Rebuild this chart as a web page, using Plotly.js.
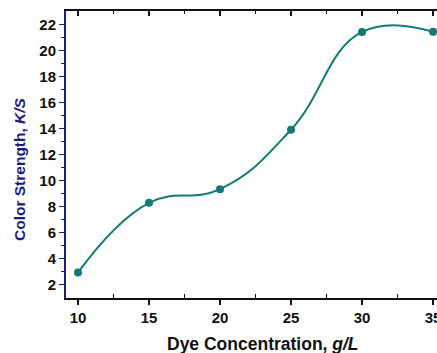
<!DOCTYPE html>
<html>
<head>
<meta charset="utf-8">
<script src="https://cdn.plot.ly/plotly-3.0.1.min.js"></script>
<style>html,body{margin:0;padding:0;background:#fff;}#chart{width:437px;height:353px;}</style>
</head>
<body>
<div id="chart"></div>
<script>
const dyeConcentration = [10, 15, 20, 25, 30, 35];
const colorStrength = [2.92, 8.28, 9.33, 13.9, 21.41, 21.42];
const xTickValues = [10, 15, 20, 25, 30, 35];
const yTickValues = [2, 4, 6, 8, 10, 12, 14, 16, 18, 20, 22];
const xTitle = 'Dye Concentration, <i>g/L</i>';
const yTitle = 'Color Strength, <i>K/S</i>';

const navy = '#1c1c7c';
const teal = '#127a78';
const fontFam = 'Arial, "Liberation Sans", sans-serif';

const traces = [{
  x: dyeConcentration,
  y: colorStrength,
  type: 'scatter',
  mode: 'lines+markers',
  line: {color: teal, width: 2, shape: 'spline', smoothing: 1.25},
  marker: {color: teal, size: 8},
  showlegend: false,
  hoverinfo: 'none'
}, {
  x: dyeConcentration,
  y: colorStrength,
  xaxis: 'x2',
  type: 'scatter',
  mode: 'none',
  showlegend: false,
  hoverinfo: 'none'
}];

const xr = [9.155, 35.28];
const H = 287; // plot height px
const W = 371; // plot width px
const layout = {
  width: 437, height: 353,
  margin: {l: 66, r: 0, t: 11, b: 55},
  paper_bgcolor: '#fff', plot_bgcolor: '#fff',
  font: {family: fontFam, weight: 'bold', color: '#111', size: 14},
  xaxis: {
    range: xr, tickvals: xTickValues, ticktext: xTickValues.map(String),
    ticklabeloverflow: 'allow',
    showgrid: false, zeroline: false,
    showline: true, linecolor: '#111', linewidth: 2,
    ticks: 'outside', ticklen: 5, tickwidth: 1.5, tickcolor: '#111',
    minor: {tickvals: [12.5, 17.5, 22.5, 27.5, 32.5], ticks: 'inside', ticklen: 4, tickcolor: '#111', tickwidth: 1.2, showgrid: false},
    tickfont: {family: fontFam, size: 15, weight: 'bold', color: '#111'}
  },
  xaxis2: {
    range: xr, overlaying: 'x', side: 'top', anchor: 'y',
    tickvals: xTickValues, showticklabels: false,
    showgrid: false, zeroline: false,
    showline: true, linecolor: '#111', linewidth: 2,
    ticks: 'inside', ticklen: 5, tickwidth: 1.5, tickcolor: '#111',
    minor: {tickvals: [12.5, 17.5, 22.5, 27.5, 32.5], ticks: 'inside', ticklen: 3, tickcolor: '#111', tickwidth: 1.2, showgrid: false}
  },
  yaxis: {
    range: [0.97, 23.02], tickvals: yTickValues, ticktext: yTickValues.map(String),
    showgrid: false, zeroline: false,
    showline: true, linecolor: navy, linewidth: 2,
    ticks: 'outside', ticklen: 5, tickwidth: 1.5, tickcolor: navy,
    minor: {tickvals: [3, 5, 7, 9, 11, 13, 15, 17, 19, 21], ticks: 'outside', ticklen: 3, tickcolor: navy, tickwidth: 1.2, showgrid: false},
    tickfont: {family: fontFam, size: 15, weight: 'bold', color: '#111'}
  },
  annotations: [{
    text: xTitle, xref: 'paper', yref: 'paper',
    x: (263 - 66) / W, y: (298 - 344) / H,
    xanchor: 'center', yanchor: 'middle', showarrow: false,
    font: {family: fontFam, size: 17.5, weight: 'bold', color: '#111'}
  }, {
    text: yTitle, xref: 'paper', yref: 'paper',
    x: (20 - 66) / W, y: (298 - 169) / H,
    xanchor: 'center', yanchor: 'middle', showarrow: false, textangle: -90,
    font: {family: fontFam, size: 15.5, weight: 'bold', color: navy}
  }]
};

Plotly.newPlot('chart', traces, layout, {displayModeBar: false, staticPlot: true});
</script>
</body>
</html>
